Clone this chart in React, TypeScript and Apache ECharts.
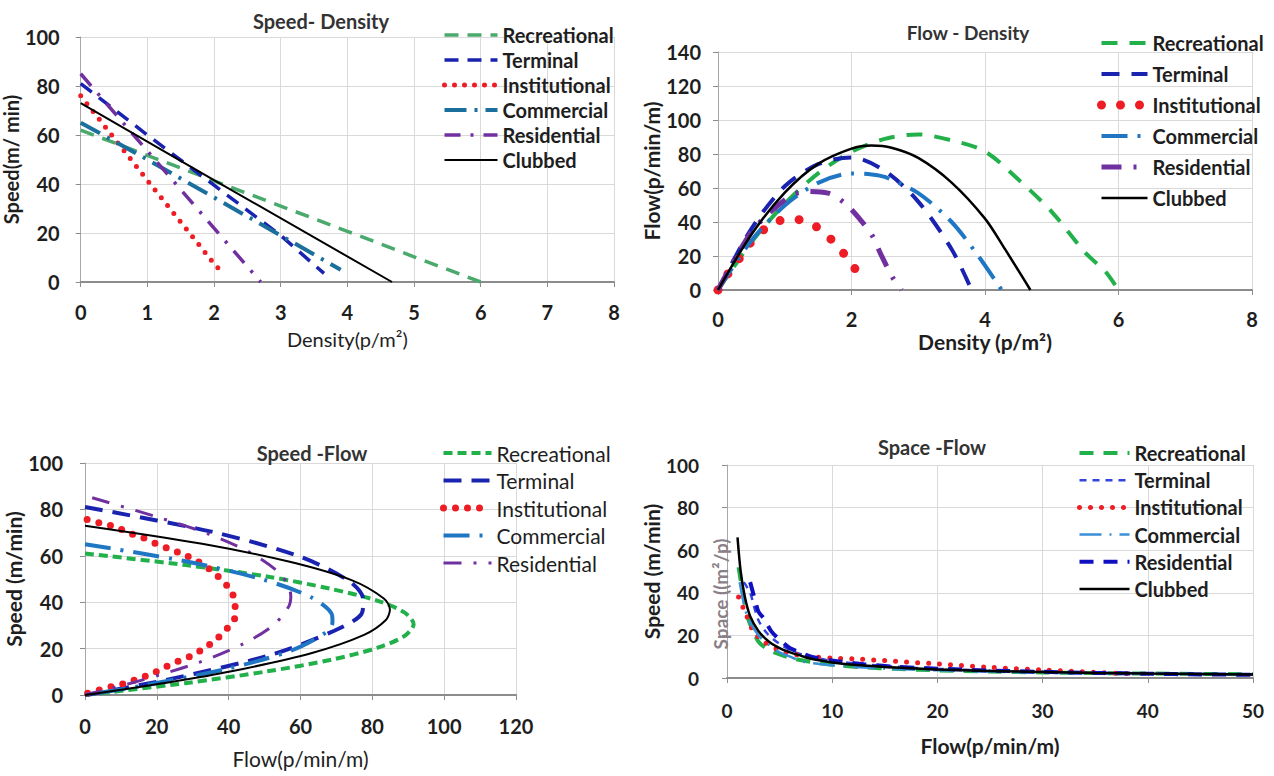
import React, { useEffect, useRef } from "react";
import * as echarts from "echarts";

// ---------- DATA ----------
const legendNames = ["Recreational", "Terminal", "Institutional", "Commercial", "Residential", "Clubbed"];
const speedFlowLegend = ["Recreational", "Terminal", "Institutional", "Commercial", "Residential"];

const panelTitles = ["Speed- Density", "Flow - Density", "Speed -Flow", "Space -Flow"];

// Panel 1: Speed vs Density  [density, speed]
const sdRecreational = [[0, 62], [1, 51.7], [2, 41.3], [3, 31], [4, 20.7], [5, 10.3], [6, 0]];
const sdTerminal = [[0, 81], [1, 60], [2, 39.5], [3, 19], [3.65, 3.5]];
const sdInstitutional = [[0, 76], [1, 41.5], [2, 7.5], [2.15, 3]];
const sdCommercial = [[0, 65], [1, 50], [2, 34.5], [3, 19], [3.9, 5]];
const sdResidential = [[0, 85], [1, 53.5], [2, 22], [2.7, 0]];
const sdClubbed = [[0, 73], [2, 41.6], [4.67, 0]];

// Panel 2: Flow vs Density  [density, flow]
const fdRecreational = [[0, 0], [0.5, 28], [1, 50.8], [1.5, 68.6], [2, 81.3], [2.5, 88.9], [3, 91.5], [3.5, 88], [4, 81.5], [4.5, 65], [5, 46], [5.5, 22], [5.8, 11], [6, 0]];
const fdTerminal = [[0, 0], [0.5, 36], [1, 61], [1.5, 74], [2, 78], [2.5, 70], [3, 52], [3.5, 24], [3.8, 0]];
const fdInstitutional = [[0, 0], [0.14, 9], [0.31, 18], [0.47, 27], [0.67, 35], [0.9, 40.5], [1.18, 41.5], [1.44, 38], [1.65, 31.5], [1.84, 23.5], [2.02, 14.5], [2.16, 5]];
const fdCommercial = [[0, 0], [0.5, 29], [1, 49.7], [1.5, 63], [2, 68.5], [2.3, 68], [2.5, 66.5], [3, 57], [3.5, 40], [3.9, 20], [4.25, 0]];
const fdResidential = [[0, 0], [0.5, 34], [1, 53], [1.3, 58], [1.65, 57], [1.9, 51], [2.14, 41], [2.31, 32], [2.44, 21], [2.62, 7], [2.75, 0]];
const fdClubbed = [[0, 0], [0.5, 32.6], [1, 57.3], [1.5, 74.2], [2, 83.2], [2.3, 85], [2.6, 83.7], [3, 77.7], [3.5, 63.2], [4, 42], [4.3, 24], [4.68, 0]];

// Panel 3: Speed vs Flow  [flow, speed]
const sfRecreational = [[0, 61], [28, 56], [51, 51], [68.6, 45.7], [81.3, 40.7], [88.9, 35.6], [91.5, 30.5], [88.9, 25.4], [81.3, 20.3], [68.6, 15.2], [50.8, 10.2], [27.9, 5.1], [0, 0]];
const sfTerminal = [[0, 81], [35.2, 70.4], [59.7, 59.7], [73.6, 49], [77.5, 41], [77, 35], [69.4, 27.7], [51.3, 17.1], [22.6, 6.5], [0, 0]];
const sfInstitutional = [[0.6, 75.7], [4.7, 73.9], [8.6, 72.4], [12.6, 69.7], [16, 67.9], [19.7, 65.3], [23.3, 63.1], [27.3, 60.7], [31, 57.9], [34.4, 54.6], [37.5, 50.4], [40.1, 46], [41.8, 40], [41.8, 34], [39.5, 28.5], [36.5, 24], [33.3, 20.3], [29.7, 17], [26.1, 14.7], [22.5, 12.1], [18.8, 9.3], [14.9, 7.1], [11.1, 5], [7.4, 3.6], [3.5, 1.9], [0, 0.5]];
const sfCommercial = [[0, 65], [28.7, 57.4], [49.7, 49.7], [63.1, 42], [68.8, 34.4], [68.9, 31.3], [66.9, 26.8], [57.3, 19.1], [40.1, 11.5], [15.2, 3.8], [0, 0]];
const sfResidential = [[2, 85], [19.3, 77.1], [34.6, 69.3], [46, 61.4], [53.5, 53.5], [56.6, 47.2], [57.3, 42.5], [56.6, 37.8], [52.3, 29.9], [44, 22], [31.8, 14.1], [15.6, 6.3], [0, 0]];
const sfClubbed = [[0, 73], [32.6, 65.2], [57.3, 57.3], [74.2, 49.5], [83.2, 41.6], [84.9, 36.9], [83.7, 32.2], [77.7, 25.9], [63.2, 18.1], [40.8, 10.2], [23.6, 5.5], [0, 0]];

// Panel 4: Space vs Flow  [flow, space]
const spRecreational = [[1.1, 52], [1.5, 40], [2, 28], [2.5, 22], [3, 17], [3.7, 14], [4.5, 12], [6, 9.5], [8, 7.5], [10, 6.2], [13, 5], [16, 4.3], [20, 3.6], [25, 3], [30, 2.6], [35, 2.3], [40, 2.1], [45, 1.9], [50, 1.8]];
const spTerminal = [[1.6, 45], [2.2, 40], [2.6, 33], [3, 27], [3.8, 21], [5, 16], [6.5, 12], [8, 10], [10, 8], [13, 6.5], [16, 5.3], [20, 4.3], [25, 3.5], [30, 2.9], [35, 2.5], [40, 2.2], [45, 1.9], [50, 1.7]];
const spInstitutional = [[1.1, 38], [1.8, 30], [2.5, 22], [3.5, 17], [5, 13], [6.5, 11], [8, 10], [10, 9.3], [12, 9], [15, 8.2], [20, 6.6], [25, 5], [30, 3.8], [35, 2.7], [38.7, 1.9]];
const spCommercial = [[1.2, 45], [1.6, 35], [2, 28], [3, 20], [4, 15.5], [5, 12], [6, 10], [7, 8], [8, 7], [10, 6], [12, 5.2], [15, 4.4], [20, 3.6], [25, 3], [30, 2.5], [35, 2.2], [40, 2], [45, 1.8], [50, 1.6]];
const spResidential = [[2.2, 45], [2.7, 36], [3, 31], [3.5, 28], [4.2, 22], [5, 18], [6, 14], [7, 12], [8, 10], [10, 8.2], [13, 6.5], [16, 5.3], [20, 4.4], [25, 3.5], [30, 2.9], [35, 2.4], [40, 2], [45, 1.7], [50, 1.5]];
const spClubbed = [[1.0, 66], [1.3, 50], [1.7, 38], [2.2, 29], [3, 22], [4, 17], [5, 14], [6, 12], [7, 10.5], [8, 9], [10, 7.3], [12, 6.2], [15, 5.2], [20, 4], [25, 3.3], [30, 2.8], [35, 2.4], [40, 2.1], [45, 1.9], [50, 1.7]];

// ---------- STYLE ----------
const FONT = "Lato, 'Open Sans', sans-serif";
const GRID_COLOR = "#d9d9d9";
const AXIS_COLOR = "#8c8c8c";
const TEXT_COLOR = "#1e1e1e";

function ln(panel: number, name: string, data: number[][], color: string, type: any, width: number, smooth: number | boolean = 0.3, cap: string = "butt") {
  return {
    type: "line",
    name: "p" + panel + "|" + name,
    xAxisIndex: panel - 1,
    yAxisIndex: panel - 1,
    data,
    smooth,
    symbol: "none",
    showSymbol: false,
    lineStyle: { color, type, width, cap },
    itemStyle: { color },
    z: 3,
  };
}

function axisCommon(i: number, min: number, max: number, interval: number, name: string, nameGap: number, nameFs: number, nameBold: boolean, labelMargin: number, labelFs: number) {
  return {
    type: "value", gridIndex: i, min, max, interval,
    name, nameLocation: "middle", nameGap,
    nameTextStyle: { fontFamily: FONT, fontSize: nameFs, fontWeight: nameBold ? "bold" : "normal", color: TEXT_COLOR },
    axisTick: { show: true, length: 5, lineStyle: { color: AXIS_COLOR } },
    axisLabel: { fontFamily: FONT, fontSize: labelFs, fontWeight: "bold", color: TEXT_COLOR, margin: labelMargin },
    splitLine: { show: true, lineStyle: { color: GRID_COLOR, width: 1 } },
  };
}

function xAx(i: number, min: number, max: number, interval: number, name: string, nameGap: number, nameFs: number, nameBold: boolean, labelMargin: number, labelFs: number) {
  return {
    ...axisCommon(i, min, max, interval, name, nameGap, nameFs, nameBold, labelMargin, labelFs),
    axisLine: { show: true, onZero: false, lineStyle: { color: AXIS_COLOR, width: 2 } },
  };
}

function yAx(i: number, min: number, max: number, interval: number, name: string, nameGap: number, nameFs: number, nameBold: boolean, labelMargin: number, labelFs: number) {
  return {
    ...axisCommon(i, min, max, interval, name, nameGap, nameFs, nameBold, labelMargin, labelFs),
    axisLine: { show: true, onZero: false, lineStyle: { color: "#a8a8a8", width: 1 } },
  };
}

function leg(panel: number, names: string[], left: number, firstRowY: number, rowGap: number, itemWidth: number, fs: number, bold: boolean) {
  return {
    orient: "vertical",
    left,
    top: firstRowY - fs / 2,
    padding: 0,
    itemWidth, itemHeight: 14,
    itemGap: rowGap - fs,
    selectedMode: false,
    data: names.map((n) => "p" + panel + "|" + n),
    formatter: (n: string) => n.split("|")[1],
    textStyle: { fontFamily: FONT, fontSize: fs, fontWeight: bold ? "bold" : "normal", color: TEXT_COLOR },
    itemStyle: { opacity: 0, borderWidth: 0 },
    lineStyle: { width: "inherit" },
  };
}

function title(x: number, y: number, text: string, size: number) {
  return {
    type: "text", x, y, z: 10,
    style: { text, fontFamily: FONT, fontSize: size, fontWeight: "bold", fill: "#333", align: "center", verticalAlign: "middle" },
  };
}

export default function App() {
  const ref = useRef<HTMLDivElement>(null);
  useEffect(() => {
    if (!ref.current) return;
    const chart = echarts.init(ref.current, undefined, { renderer: "svg" });
    const green1 = "#4aa96c";
    const green = "#22b04a";
    const darkBlue = "#1a22b0";
    const red = "#ee1c24";
    const steel = "#1f77c4";
    const steel1 = "#1b6f9c";
    const purple = "#7030a0";

    const option: any = {
      animation: false,
      backgroundColor: "#ffffff",
      grid: [
        { left: 78, top: 37, width: 536, height: 245 },
        { left: 718, top: 52, width: 534, height: 238 },
        { left: 85, top: 463, width: 431, height: 232 },
        { left: 727, top: 465, width: 526, height: 213 },
      ],
      xAxis: [
        xAx(0, 0, 8, 1, "Density(p/m²)", 47, 20, false, 20, 20),
        xAx(1, 0, 8, 2, "Density (p/m²)", 41, 21, true, 19, 20),
        xAx(2, 0, 120, 20, "Flow(p/min/m)", 53, 21, false, 21, 20),
        xAx(3, 0, 50, 10, "Flow(p/min/m)", 57, 21, true, 23, 19),
      ],
      yAxis: [
        yAx(0, 0, 100, 20, "Speed(m/ min)", 48, 20, true, 21, 20),
        yAx(1, 0, 140, 20, "Flow(p/min/m)", 55, 21, true, 17, 20),
        yAx(2, 0, 100, 20, "Speed (m/min)", 60, 21, true, 22, 20),
        yAx(3, 0, 100, 20, "Speed (m/min)", 64, 21, true, 28, 19),
      ],
      legend: [
        leg(1, legendNames, 442, 35, 25, 53, 20, true),
        leg(2, legendNames, 1097, 43, 31, 46, 20, true),
        leg(3, speedFlowLegend, 440, 453, 27.5, 48, 21, false),
        leg(4, legendNames, 1077, 453, 27.2, 50, 20, true),
      ],
      graphic: [
        title(321, 21, panelTitles[0], 20),
        title(968, 32, panelTitles[1], 19),
        title(312, 453, panelTitles[2], 20),
        title(932, 447, panelTitles[3], 20),
        {
          type: "text", x: 720, y: 594, rotation: Math.PI / 2, z: 10,
          style: { text: "Space ((m²/p)", fontFamily: FONT, fontSize: 19, fontWeight: "bold", fill: "#8a8088", align: "center", verticalAlign: "middle" },
        },
      ],
      series: [
        ln(1, "Recreational", sdRecreational, green1, [14, 9], 3.5, 0),
        ln(1, "Terminal", sdTerminal, darkBlue, [14, 9], 3.5, 0),
        ln(1, "Institutional", sdInstitutional, red, [0, 10], 5, 0, "round"),
        ln(1, "Commercial", sdCommercial, steel1, [22, 8, 3, 8], 4, 0),
        ln(1, "Residential", sdResidential, purple, [16, 10, 3, 10], 3.5, 0),
        ln(1, "Clubbed", sdClubbed, "#000000", "solid", 2, 0),

        ln(2, "Recreational", fdRecreational, green, [16, 12], 4),
        ln(2, "Terminal", fdTerminal, darkBlue, [18, 12], 4),
        ln(2, "Institutional", fdInstitutional, red, [0, 19], 9, 0.3, "round"),
        ln(2, "Commercial", fdCommercial, steel, [26, 10, 3, 10], 4),
        ln(2, "Residential", fdResidential, purple, [20, 12, 3, 12], 5),
        ln(2, "Clubbed", fdClubbed, "#000000", "solid", 2.5),

        ln(3, "Recreational", sfRecreational, green, [9, 5], 4),
        ln(3, "Terminal", sfTerminal, darkBlue, [18, 10], 4),
        ln(3, "Institutional", sfInstitutional, red, [0, 12], 7, 0.3, "round"),
        ln(3, "Commercial", sfCommercial, steel, [26, 10, 3, 10], 4),
        ln(3, "Residential", sfResidential, purple, [18, 12, 3, 12], 3),
        ln(3, "Clubbed", sfClubbed, "#000000", "solid", 2),

        ln(4, "Recreational", spRecreational, green, [14, 10], 4),
        ln(4, "Terminal", spTerminal, "#3344dd", [7, 6], 2.5),
        ln(4, "Institutional", spInstitutional, red, [0, 11], 5, 0.3, "round"),
        ln(4, "Commercial", spCommercial, "#3a8fd8", [22, 8, 2, 8], 2.5),
        ln(4, "Residential", spResidential, "#1010c0", [14, 10], 4),
        ln(4, "Clubbed", spClubbed, "#000000", "solid", 2.5),
      ],
    };
    chart.setOption(option);
    return () => chart.dispose();
  }, []);
  return (
    <div
      ref={ref}
      style={{ position: "absolute", left: 0, top: 0, width: 1274, height: 776, background: "#fff" }}
    />
  );
}
